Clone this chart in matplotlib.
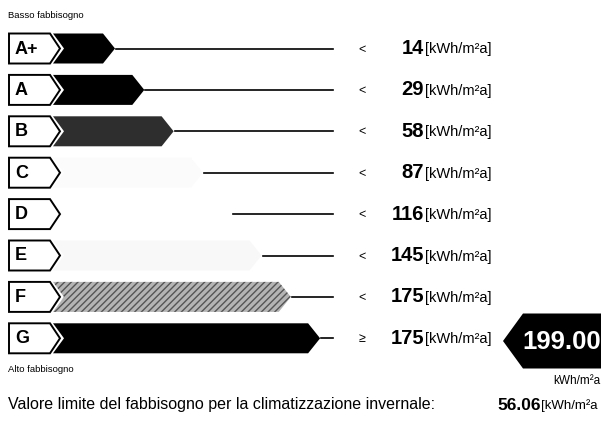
import matplotlib
matplotlib.use("Agg")
import matplotlib.pyplot as plt
from matplotlib.patches import Polygon

plt.rcParams['font.family'] = ['Liberation Sans', 'DejaVu Sans']

# energy classes and their upper limits
classes = ['A+', 'A', 'B', 'C', 'D', 'E', 'F', 'G']
limits = [14, 29, 58, 87, 116, 145, 175, 175]
signs = ['<', '<', '<', '<', '<', '<', '<', '\u2265']
shades = ['#000000', '#000000', '#2e2e2e', '#fbfbfb', '#ffffff', '#f8f8f8', '#b4b4b4', '#000000']
hatches = [None, None, None, None, None, None, '/////', None]
current_value = 199.00
limit_value = 56.06

fig = plt.figure(figsize=(6.01, 4.21), dpi=100)
ax = fig.add_axes([0, 0, 1, 1])
ax.set_xlim(0, 601)
ax.set_ylim(421, 0)
ax.axis('off')

y0 = 48.5
step = 41.4
h = 15
for i, c in enumerate(classes):
    yc = y0 + i * step
    # label box
    box = [(9, yc - h), (50, yc - h), (60, yc), (50, yc + h), (9, yc + h)]
    ax.add_patch(Polygon(box, closed=True, fc='white', ec='black', lw=1.4))
    ax.text(15, yc + 0.5, c, fontsize=13, fontweight='bold', va='center', ha='left')
    # class bar (chevron)
    tip = 115 + 29.3 * i
    bar = [(53, yc - h), (tip - 12, yc - h), (tip, yc), (tip - 12, yc + h),
           (53, yc + h), (64, yc)]
    p = Polygon(bar, closed=True, fc=shades[i], ec='none', lw=0)
    if hatches[i]:
        p.set_hatch(hatches[i])
        p.set_edgecolor('#555555')
    ax.add_patch(p)
    ax.plot([tip + 1, 333], [yc, yc], color='black', lw=1.2)
    ax.text(362, yc + 1, signs[i], fontsize=9, ha='center', va='center')
    ax.text(424, yc, str(limits[i]), fontsize=14.5, fontweight='bold',
            ha='right', va='center')
    ax.text(425, yc + 1, '[kWh/m\u00b2a]', fontsize=10.5, ha='left', va='center')

ax.text(8, 15, 'Basso fabbisogno', fontsize=6.8, va='center')
ax.text(8, 369, 'Alto fabbisogno', fontsize=6.8, va='center')
ax.text(8, 405, 'Valore limite del fabbisogno per la climatizzazione invernale:',
        fontsize=11.5, va='center')

# current value indicator
yc = 341
ind = [(503, yc), (523, yc - 27.5), (601, yc - 27.5), (601, yc + 27.5), (523, yc + 27.5)]
ax.add_patch(Polygon(ind, closed=True, fc='black', ec='none'))
ax.text(522, yc + 1, '%.2f' % current_value, color='white', fontsize=18.5,
        fontweight='bold', ha='left', va='center')
ax.text(600, 381, 'kWh/m\u00b2a', fontsize=8.5, ha='right', va='center')

ax.text(497, 405, '%.2f' % limit_value, fontsize=12.5, fontweight='bold', va='center')
ax.text(541, 406, '[kWh/m\u00b2a', fontsize=9.5, va='center')

fig.savefig('out.png', dpi=100)
